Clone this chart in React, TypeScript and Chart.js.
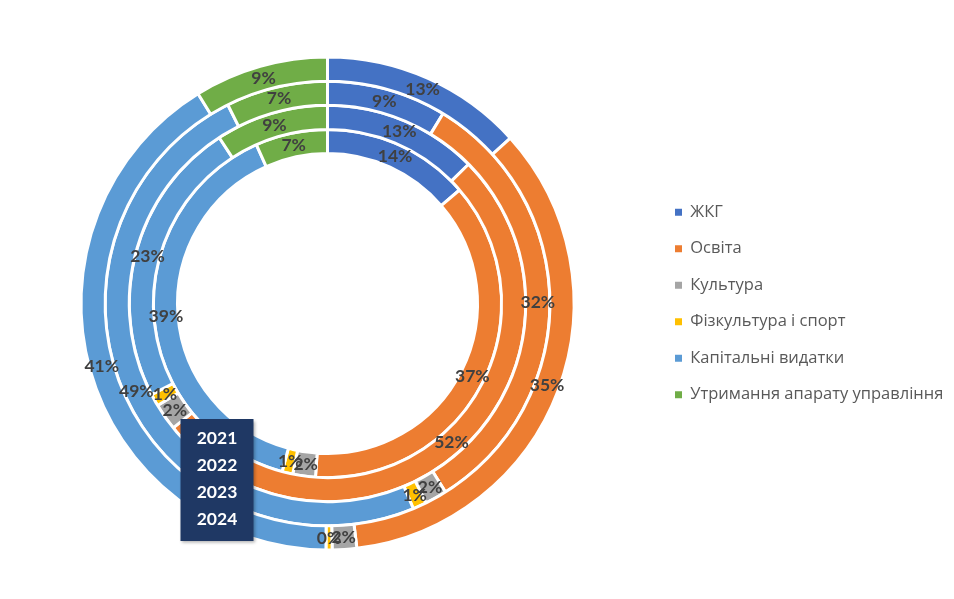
import React, { useEffect, useRef } from "react";
import { Chart, DoughnutController, ArcElement, Legend } from "chart.js";

Chart.register(DoughnutController, ArcElement, Legend);

const categories = [
  "ЖКГ",
  "Освіта",
  "Культура",
  "Фізкультура і спорт",
  "Капітальні видатки",
  "Утримання апарату управління",
];
const years = ["2021", "2022", "2023", "2024"];

// shares per year, same order as categories
const values2021 = [13.7, 37.4, 2.1, 1.0, 39.1, 6.7];
const values2022 = [12.6, 51.6, 2.2, 1.0, 23.4, 9.2];
const values2023 = [8.7, 32.4, 1.6, 1.0, 48.9, 7.4];
const values2024 = [13.3, 34.8, 1.6, 0.4, 41.1, 8.8];

const COLORS = ["#4472C4", "#ED7D31", "#A5A5A5", "#FFC000", "#5B9BD5", "#70AD47"];

// percent labels in the middle of every slice
const sliceLabels = {
  id: "sliceLabels",
  afterDatasetsDraw(chart: any) {
    const ctx = chart.ctx;
    ctx.save();
    ctx.font = "bold 17.5px Lato";
    ctx.fillStyle = "#404040";
    ctx.textAlign = "center";
    ctx.textBaseline = "middle";
    chart.data.datasets.forEach((ds: any, di: number) => {
      const meta = chart.getDatasetMeta(di);
      const total = ds.data.reduce((a: number, b: number) => a + b, 0);
      meta.data.forEach((arc: any, i: number) => {
        const { x, y } = arc.getCenterPoint();
        ctx.fillText(Math.round((ds.data[i] / total) * 100) + "%", x, y);
      });
    });
    ctx.restore();
  },
};

// the dark text box with the ring years
const yearBox = {
  id: "yearBox",
  afterDraw(chart: any) {
    const ctx = chart.ctx;
    const { left, right, top, bottom } = chart.chartArea;
    const cx = (left + right) / 2;
    const cy = (top + bottom) / 2;
    const x = cx - 147;
    const y = cy + 115.5;
    ctx.save();
    ctx.shadowColor = "rgba(0,0,0,0.3)";
    ctx.shadowBlur = 3;
    ctx.shadowOffsetX = 1.5;
    ctx.shadowOffsetY = 1.5;
    ctx.fillStyle = "#1F3864";
    ctx.fillRect(x, y, 73, 122);
    ctx.restore();
    ctx.save();
    ctx.font = "bold 17.5px Lato";
    ctx.fillStyle = "#ffffff";
    ctx.textAlign = "center";
    ctx.textBaseline = "middle";
    years.forEach((yr, i) => ctx.fillText(yr, x + 36.5, y + 19 + i * 27));
    ctx.restore();
  },
};

export default function App() {
  const canvasRef = useRef<HTMLCanvasElement>(null);

  useEffect(() => {
    if (!canvasRef.current) return;
    // Chart.js draws the first dataset as the outer ring
    const rings = [
      { label: years[3], data: values2024 },
      { label: years[2], data: values2023 },
      { label: years[1], data: values2022 },
      { label: years[0], data: values2021 },
    ];
    const chart = new Chart(canvasRef.current, {
      type: "doughnut",
      data: {
        labels: categories,
        datasets: rings.map((r) => ({
          label: r.label,
          data: r.data,
          backgroundColor: COLORS,
          borderColor: "#ffffff",
          borderWidth: 3,
          clip: false,
        })) as any,
      },
      options: {
        animation: false,
        responsive: true,
        maintainAspectRatio: false,
        events: [],
        radius: 246.5,
        cutout: "60.85%",
        layout: { padding: { left: -3, right: 2, top: 56, bottom: 48 } },
        plugins: {
          tooltip: { enabled: false },
          legend: {
            position: "right",
            maxWidth: 297,
            labels: {
              boxWidth: 7,
              boxHeight: 7,
              padding: 20,
              color: "#595959",
              font: { family: "'Open Sans'", size: 16.5 },
              generateLabels: () =>
                categories.map((text, i) => ({
                  text,
                  fillStyle: COLORS[i],
                  strokeStyle: COLORS[i],
                  lineWidth: 0,
                  hidden: false,
                  index: i,
                  fontColor: "#595959",
                })),
            },
          },
        },
      } as any,
      plugins: [sliceLabels, yearBox],
    });
    return () => chart.destroy();
  }, []);

  return (
    <div style={{ position: "absolute", left: 0, top: 0, width: 954, height: 599, background: "#fff" }}>
      <canvas ref={canvasRef} />
    </div>
  );
}
